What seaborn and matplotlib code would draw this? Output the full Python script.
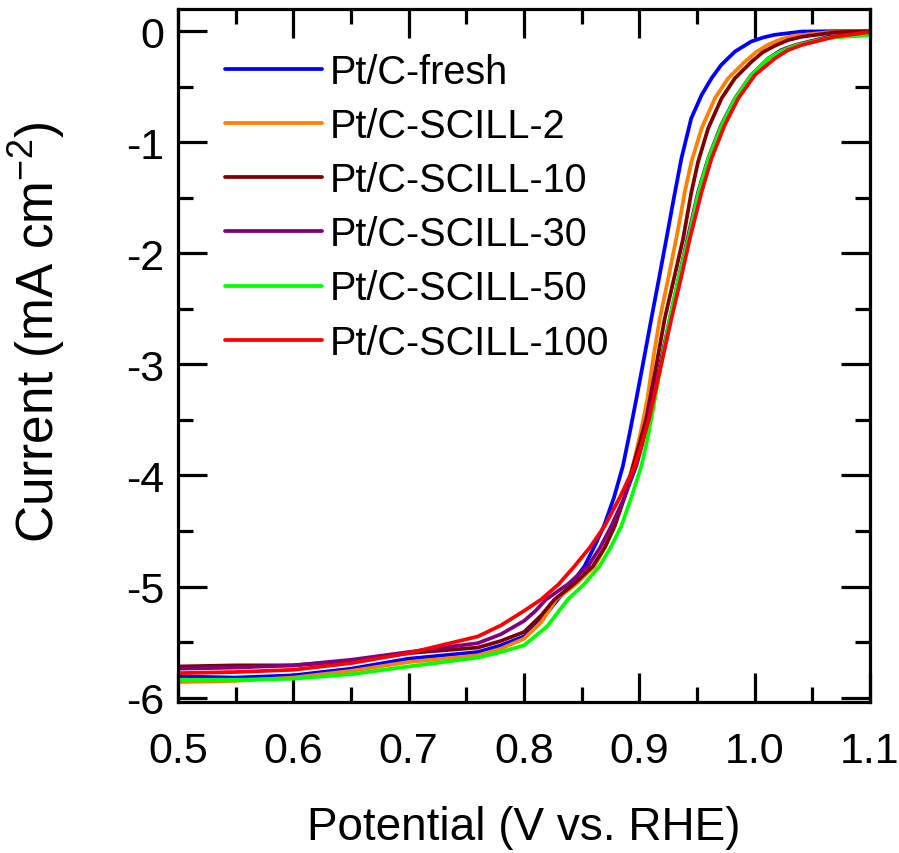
import numpy as np
import pandas as pd
import matplotlib
matplotlib.use("Agg")
import matplotlib.pyplot as plt
import seaborn as sns
from matplotlib.ticker import MultipleLocator

labels = ["Pt/C-fresh", "Pt/C-SCILL-2", "Pt/C-SCILL-10",
          "Pt/C-SCILL-30", "Pt/C-SCILL-50", "Pt/C-SCILL-100"]
colors = ["#0000FF", "#FF8000", "#800000", "#800080", "#00FF00", "#FF0000"]

fresh_v = [0.50, 0.55, 0.60, 0.65, 0.70, 0.76, 0.78, 0.80, 0.815, 0.8293, 0.84, 0.8525,
           0.862, 0.8693, 0.878, 0.8858, 0.892, 0.8974, 0.904, 0.9104, 0.917, 0.9235,
           0.93, 0.9365, 0.945, 0.954, 0.9626, 0.971, 0.983, 0.997, 1.007, 1.017, 1.041,
           1.07, 1.10]
fresh_i = [-5.81, -5.82, -5.80, -5.74, -5.65, -5.59, -5.53, -5.45, -5.30, -5.117, -4.99, -4.817,
           -4.62, -4.456, -4.20, -3.914, -3.60, -3.312, -2.95, -2.59, -2.23, -1.868,
           -1.50, -1.146, -0.785, -0.575, -0.424, -0.304, -0.183, -0.093, -0.058, -0.033, -0.003,
           0.0, 0.0]

scill2_v = [0.50, 0.55, 0.60, 0.65, 0.70, 0.76, 0.78, 0.80, 0.815, 0.8278, 0.845, 0.8612,
            0.870, 0.8786, 0.887, 0.8945, 0.901, 0.907, 0.912, 0.9177, 0.925, 0.932, 0.936,
            0.9394, 0.9452, 0.954, 0.9655, 0.977, 0.9916, 1.001, 1.0119, 1.023, 1.035,
            1.064, 1.10]
scill2_i = [-5.86, -5.85, -5.82, -5.76, -5.68, -5.62, -5.56, -5.47, -5.32, -5.117, -4.98, -4.817,
            -4.65, -4.456, -4.20, -3.914, -3.62, -3.312, -2.95, -2.59, -2.23, -1.868, -1.65,
            -1.447, -1.176, -0.875, -0.605, -0.424, -0.274, -0.19, -0.12, -0.07, -0.04,
            -0.01, 0.0]

scill10_v = [0.50, 0.55, 0.60, 0.65, 0.70, 0.76, 0.78, 0.80, 0.815, 0.8264, 0.843, 0.8597,
             0.870, 0.8786, 0.887, 0.8945, 0.900, 0.906, 0.914, 0.922, 0.930, 0.938, 0.9452,
             0.951, 0.9597, 0.9713, 0.9829, 0.9974, 1.007, 1.0177, 1.029, 1.041, 1.07, 1.10]
scill10_i = [-5.72, -5.71, -5.71, -5.67, -5.60, -5.55, -5.49, -5.41, -5.26, -5.117, -4.98, -4.817,
             -4.65, -4.456, -4.20, -3.914, -3.72, -3.49, -3.05, -2.59, -2.23, -1.868, -1.447,
             -1.176, -0.875, -0.605, -0.424, -0.274, -0.19, -0.13, -0.08, -0.05, -0.01, 0.0]

scill30_v = [0.50, 0.55, 0.60, 0.65, 0.70, 0.76, 0.78, 0.80, 0.81, 0.8191, 0.838, 0.8554,
             0.866, 0.8757, 0.887, 0.8974, 0.903, 0.9075, 0.917, 0.9264, 0.934, 0.9418, 0.951,
             0.9597, 0.971, 0.9829, 0.997, 1.0119, 1.023, 1.035, 1.064, 1.10]
scill30_i = [-5.74, -5.73, -5.71, -5.66, -5.59, -5.51, -5.43, -5.31, -5.22, -5.117, -4.98, -4.817,
             -4.65, -4.456, -4.20, -3.914, -3.70, -3.49, -3.05, -2.59, -2.23, -1.868, -1.447,
             -1.146, -0.845, -0.605, -0.394, -0.244, -0.17, -0.124, -0.05, -0.02]

scill50_v = [0.50, 0.55, 0.60, 0.65, 0.70, 0.76, 0.78, 0.80, 0.82, 0.838, 0.852, 0.8655,
             0.875, 0.8844, 0.893, 0.9018, 0.906, 0.9104, 0.918, 0.9264, 0.934, 0.9425, 0.9515,
             0.96, 0.9715, 0.9832, 0.9972, 1.012, 1.023, 1.035, 1.064, 1.10]
scill50_i = [-5.84, -5.84, -5.83, -5.79, -5.72, -5.64, -5.59, -5.53, -5.36, -5.117, -4.98, -4.817,
             -4.65, -4.456, -4.20, -3.914, -3.72, -3.49, -3.05, -2.59, -2.23, -1.868, -1.447,
             -1.146, -0.845, -0.605, -0.394, -0.244, -0.18, -0.13, -0.06, -0.035]

scill100_v = [0.50, 0.55, 0.60, 0.65, 0.70, 0.76, 0.78, 0.80, 0.8148, 0.83, 0.8438, 0.857,
              0.8699, 0.883, 0.896, 0.902, 0.9085, 0.918, 0.9278, 0.936, 0.9438, 0.954,
              0.9626, 0.974, 0.9858, 1.0003, 1.0177, 1.029, 1.041, 1.070, 1.099]
scill100_i = [-5.78, -5.77, -5.75, -5.69, -5.60, -5.45, -5.35, -5.22, -5.117, -4.98, -4.817, -4.65,
              -4.456, -4.20, -3.914, -3.72, -3.49, -3.05, -2.59, -2.23, -1.868, -1.447,
              -1.146, -0.846, -0.605, -0.394, -0.244, -0.17, -0.124, -0.048, -0.009]

series_v = [fresh_v, scill2_v, scill10_v, scill30_v, scill50_v, scill100_v]
series_i = [fresh_i, scill2_i, scill10_i, scill30_i, scill50_i, scill100_i]

frames = []
for lab, v, c in zip(labels, series_v, series_i):
    frames.append(pd.DataFrame({"V": v, "I": c, "sample": lab}))
df = pd.concat(frames, ignore_index=True)

sns.set_style("ticks")
plt.rcParams["font.family"] = ["Liberation Sans", "DejaVu Sans"]
plt.rcParams["mathtext.fontset"] = "custom"
plt.rcParams["mathtext.rm"] = "Liberation Sans"
plt.rcParams["text.color"] = "black"
plt.rcParams["axes.labelcolor"] = "black"
plt.rcParams["xtick.color"] = "black"
plt.rcParams["ytick.color"] = "black"

fig = plt.figure(figsize=(8.99, 8.54), dpi=100)
ax = fig.add_axes([0.198, 0.1768, 0.7697, 0.8115])

sns.lineplot(data=df, x="V", y="I", hue="sample", hue_order=labels,
             palette=dict(zip(labels, colors)), estimator=None, sort=True,
             linewidth=2.7, ax=ax)

ax.set_xlim(0.5, 1.1)
ax.set_ylim(-6.04, 0.2)
ax.xaxis.set_minor_locator(MultipleLocator(0.05))
ax.yaxis.set_minor_locator(MultipleLocator(0.5))
ax.set_xticks([0.5, 0.6, 0.7, 0.8, 0.9, 1.0, 1.1])
ax.set_xticklabels(["0.5", "0.6", "0.7", "0.8", "0.9", "1.0", "1.1"])
ax.set_yticks([0, -1, -2, -3, -4, -5, -6])
ax.set_yticklabels(["0", "-1", "-2", "-3", "-4", "-5", "-6"])

for s in ax.spines.values():
    s.set_visible(True)
    s.set_linewidth(2.3)
    s.set_color("black")
ax.tick_params(which="both", direction="in", top=True, right=True,
               width=2.3, color="black", labelsize=31, labelcolor="black")
ax.tick_params(which="major", length=21)
ax.tick_params(which="minor", length=11)
ax.tick_params(axis="x", which="major", pad=21)
ax.tick_params(axis="y", which="major", pad=10)

ax.set_xlabel("Potential (V vs. RHE)", fontsize=33, labelpad=24)
ax.set_ylabel("Current (mA cm$^{-2}$)", fontsize=37)
ax.yaxis.set_label_coords(-0.16, 0.535)

leg = ax.legend(loc="upper left", bbox_to_anchor=(0.045, 0.96), frameon=False,
                fontsize=28.5, handlelength=2.45, handletextpad=0.2,
                labelspacing=0.41, borderaxespad=0)
for line in leg.get_lines():
    line.set_linewidth(2.7)

fig.savefig("out.png", dpi=100)
